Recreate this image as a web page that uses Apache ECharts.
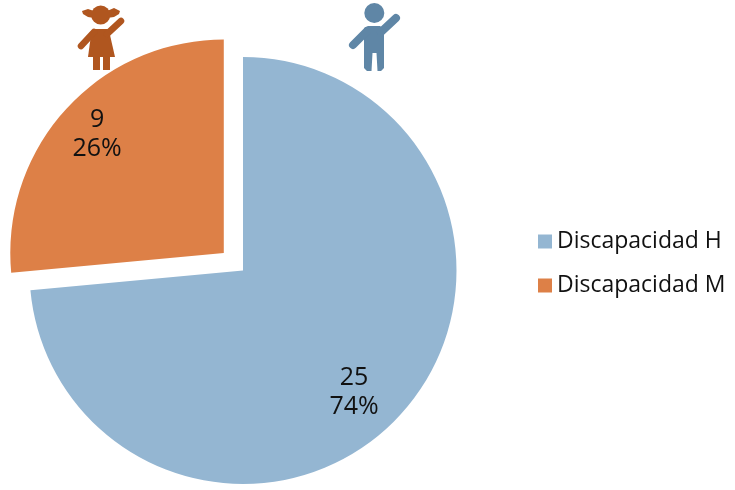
<!DOCTYPE html>
<html><head><meta charset="utf-8">
<style>html,body{margin:0;padding:0;background:#fff}#c{width:735px;height:490px}</style>
<script src="https://cdn.jsdelivr.net/npm/echarts@6/dist/echarts.min.js"></script>
</head><body><div id="c"></div>
<script>
const categories = ['Discapacidad H', 'Discapacidad M'];
const values = [25, 9];
const percents = ['74%', '26%'];
const colors = ['#94B6D2', '#DD8047'];
const labelOffsets = [[30, 48], [-20, -22]];
const boy = '#5F86A6', girl = '#B0561F';
const limb = (x1, y1, x2, y2, w, c) => ({type:'line', shape:{x1,y1,x2,y2}, style:{stroke:c, lineWidth:w, lineCap:'round'}, silent:true});
const chart = echarts.init(document.getElementById('c'), null, {renderer:'canvas'});
chart.setOption({
  animation:false,
  backgroundColor:'#fff',
  textStyle:{fontFamily:'Open Sans'},
  legend:{orient:'vertical', left:533, top:225, itemWidth:14, itemHeight:14, itemGap:21, icon:'rect',
    textStyle:{fontSize:23, lineHeight:23, color:'#111', fontFamily:'Open Sans'}, data:categories},
  series:[{
    type:'pie', center:[243,270.5], radius:[0,213.5], startAngle:90, clockwise:true,
    selectedMode:'multiple', selectedOffset:26, avoidLabelOverlap:false,
    labelLine:{show:false},
    emphasis:{disabled:true},
    itemStyle:{borderWidth:0},
    data:categories.map((name,i)=>{
      const label = {show:true, position:'inside', offset:labelOffsets[i], formatter:`${values[i]}\n${percents[i]}`,
        fontSize:25, lineHeight:29, color:'#111', fontFamily:'Open Sans', align:'center'};
      return {name, value:values[i], selected:i===1, itemStyle:{color:colors[i]}, label, select:{label}};
    })
  }],
  graphic:[
    {type:'circle', shape:{cx:374.3,cy:13,r:10}, style:{fill:boy}, silent:true},
    {type:'polygon', shape:{points:[[364,28],[368,26],[380,26],[384,29],[384,68],[381,71],[377.5,71],[376.5,53],[372.5,53],[371.5,71],[367,71],[364,68]]}, style:{fill:boy}, silent:true},
    limb(367,31,353,45,8,boy),
    limb(381,32,396,18,8,boy),
    {type:'circle', shape:{cx:100.7,cy:15,r:9.5}, style:{fill:girl}, silent:true},
    {type:'polygon', shape:{points:[[94,11],[88,9],[82,11],[83,14],[88,17],[94,18]]}, style:{fill:girl}, silent:true},
    {type:'polygon', shape:{points:[[107,11],[114,8],[120,11],[119,14],[114,17],[107,18]]}, style:{fill:girl}, silent:true},
    {type:'polygon', shape:{points:[[93,29],[108,29],[110,35],[115,57],[88,57],[91,35]]}, style:{fill:girl}, silent:true},
    {type:'rect', shape:{x:93,y:56,width:7,height:14}, style:{fill:girl}, silent:true},
    {type:'rect', shape:{x:103,y:56,width:7,height:14}, style:{fill:girl}, silent:true},
    limb(94,32,81,46,6.5,girl),
    limb(107,34,121,21,6.5,girl)
  ]
});
</script></body></html>
